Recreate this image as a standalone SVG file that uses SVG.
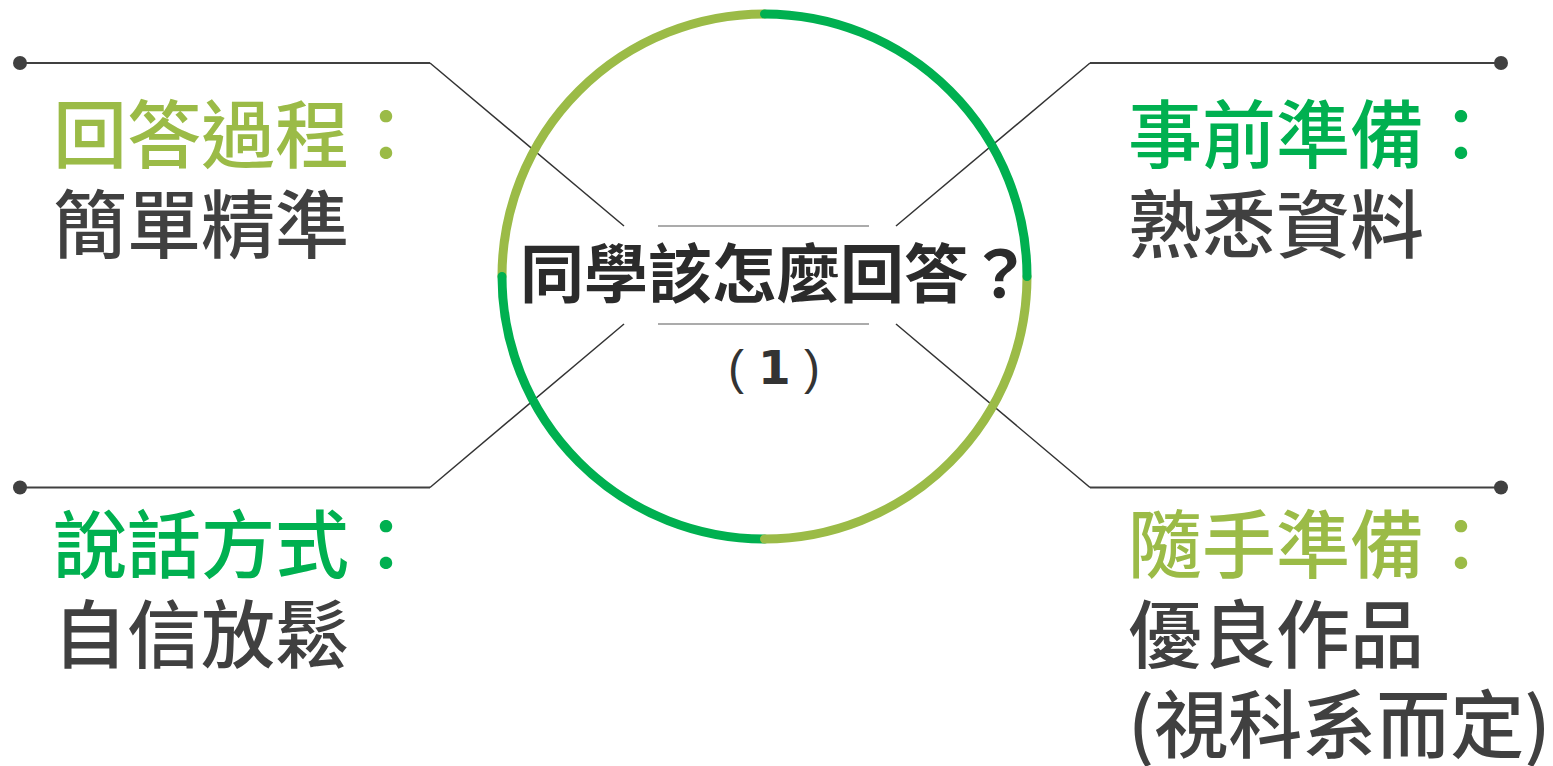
<svg xmlns="http://www.w3.org/2000/svg" width="1553" height="766" viewBox="0 0 1553 766">
  <style>
    .cjk { font-family: "Noto Sans CJK TC", "Noto Sans CJK SC", sans-serif; }
    .lbl { font-size: 74px; font-weight: 500; }
    .light { fill: #9BBB47; }
    .dark { fill: #00B050; }
    .body { fill: #404040; }
    .ring { fill: none; stroke-width: 9; stroke-linecap: round; }
    .hl { stroke: #404040; stroke-width: 2; fill: none; }
    .dl { stroke: #333333; stroke-width: 1.5; fill: none; }
    .gl { stroke: #ABABAB; stroke-width: 2; }
    .par { font-family: "Liberation Sans", sans-serif; font-size: 48px; fill: #333333; }
  </style>
  <rect width="1553" height="766" fill="#FFFFFF"/>

  <g id="connectors">
    <path class="hl" d="M20 63 H430"/>
    <path class="dl" d="M430 63 L624 226"/>
    <path class="hl" d="M1090 63 H1501"/>
    <path class="dl" d="M1090 63 L896 226"/>
    <path class="hl" d="M20 487.5 H430"/>
    <path class="dl" d="M430 487.5 L624 324"/>
    <path class="hl" d="M1090 487.5 H1501"/>
    <path class="dl" d="M1090 487.5 L896 324"/>
    <circle cx="20" cy="63" r="7" fill="#404040"/>
    <circle cx="1501" cy="63" r="7" fill="#404040"/>
    <circle cx="20" cy="487.5" r="7" fill="#404040"/>
    <circle cx="1501" cy="487.5" r="7" fill="#404040"/>
  </g>

  <g id="center">
    <path class="ring" stroke="#9BBB47" d="M502 276.5 A262.5 262.5 0 0 1 764.5 14"/>
    <path class="ring" stroke="#00B050" d="M764.5 539 A262.5 262.5 0 0 1 502 276.5"/>
    <path class="ring" stroke="#9BBB47" d="M1027 276.5 A262.5 262.5 0 0 1 764.5 539"/>
    <path class="ring" stroke="#00B050" d="M764.5 14 A262.5 262.5 0 0 1 1027 276.5"/>
    <line class="gl" x1="658" y1="226" x2="869" y2="226"/>
    <line class="gl" x1="658" y1="324" x2="869" y2="324"/>
    <text class="cjk" x="776" y="297" font-size="64" font-weight="700" fill="#2B2B2B" text-anchor="middle">同學該怎麼回答？</text>
    <text class="par" y="384"><tspan x="728">(</tspan><tspan x="758" font-family="DejaVu Sans, sans-serif" font-size="47" font-weight="700">1</tspan><tspan x="804">)</tspan></text>
  </g>

  <g id="node-tl">
    <text class="cjk lbl light" x="53" y="162">回答過程：</text>
    <text class="cjk lbl body" x="53" y="252">簡單精準</text>
  </g>
  <g id="node-tr">
    <text class="cjk lbl dark" x="1128" y="162">事前準備：</text>
    <text class="cjk lbl body" x="1128" y="252">熟悉資料</text>
  </g>
  <g id="node-bl">
    <text class="cjk lbl dark" x="53" y="572">說話方式：</text>
    <text class="cjk lbl body" x="53" y="662">自信放鬆</text>
  </g>
  <g id="node-br">
    <text class="cjk lbl light" x="1128" y="572">隨手準備：</text>
    <text class="cjk lbl body" x="1128" y="662">優良作品</text>
    <text class="cjk lbl body" x="1128" y="752">(視科系而定)</text>
  </g>
</svg>
